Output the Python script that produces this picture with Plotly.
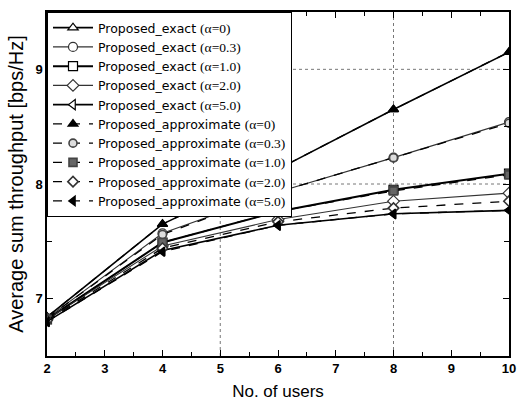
import plotly.graph_objects as go

users = [2, 4, 6, 8, 10]

exact_a0 = [6.84, 7.65, 8.13, 8.65, 9.15]
exact_a03 = [6.83, 7.57, 7.93, 8.23, 8.54]
exact_a1 = [6.82, 7.49, 7.76, 7.95, 8.09]
exact_a2 = [6.82, 7.46, 7.69, 7.85, 7.92]
exact_a5 = [6.80, 7.42, 7.64, 7.74, 7.77]

approx_a0 = [6.84, 7.65, 8.13, 8.65, 9.15]
approx_a03 = [6.83, 7.56, 7.93, 8.23, 8.53]
approx_a1 = [6.82, 7.49, 7.76, 7.94, 8.08]
approx_a2 = [6.81, 7.44, 7.67, 7.79, 7.85]
approx_a5 = [6.80, 7.41, 7.64, 7.74, 7.77]

alphas = ["0", "0.3", "1.0", "2.0", "5.0"]
grid_x = [5, 8]
grid_y = [8, 9]

SANS = "Liberation Sans, Arial, sans-serif"
LEG = "DejaVu Sans, sans-serif"
SERIF = "Liberation Serif, Times New Roman, serif"


def label(kind, a):
    return f'{kind} <span style="font-family:{SERIF};font-size:13.5px">(α={a})</span>'


fig = go.Figure()

exact_sets = [exact_a0, exact_a03, exact_a1, exact_a2, exact_a5]
exact_syms = ["triangle-up", "circle", "square", "diamond", "triangle-left"]
exact_w = [1.6, 1.1, 2.0, 1.1, 1.6]
exact_col = ["#000000", "#333333", "#000000", "#333333", "#000000"]
for vals, sym, w, c, a in zip(exact_sets, exact_syms, exact_w, exact_col, alphas):
    fig.add_trace(go.Scatter(
        x=users, y=vals, mode="lines+markers", name=label("Proposed_exact", a),
        line=dict(color=c, width=w),
        marker=dict(symbol=sym, size=9, color="white", line=dict(color=c, width=1.2)),
    ))

approx_sets = [approx_a0, approx_a03, approx_a1, approx_a2, approx_a5]
approx_syms = ["triangle-up", "circle", "square", "diamond", "triangle-left"]
approx_fill = ["#000000", "#dddddd", "#666666", "#ffffff", "#000000"]
approx_mc = ["#000000", "#444444", "#444444", "#333333", "#000000"]
for vals, sym, fc, mc, a in zip(approx_sets, approx_syms, approx_fill, approx_mc, alphas):
    fig.add_trace(go.Scatter(
        x=users, y=vals, mode="lines+markers", name=label("Proposed_approximate", a),
        line=dict(color="#000000", width=1.3, dash="dash"),
        marker=dict(symbol=sym, size=8, color=fc, line=dict(color=mc, width=1.6)),
    ))

for gx in grid_x:
    fig.add_shape(type="line", xref="x", yref="paper", x0=gx, x1=gx, y0=0, y1=1,
                  line=dict(color="#777777", width=1, dash="dot"), layer="below")
for gy in grid_y:
    fig.add_shape(type="line", xref="paper", yref="y", x0=0, x1=1, y0=gy, y1=gy,
                  line=dict(color="#777777", width=1, dash="dot"), layer="below")

axis_common = dict(
    showline=True, linecolor="black", linewidth=1.5, mirror="ticks",
    ticks="inside", ticklen=6, tickwidth=1.2, tickcolor="black",
    showgrid=False, zeroline=False,
    tickfont=dict(family=SANS, size=13, color="black", weight=700),
)

fig.update_xaxes(
    range=[2, 10], dtick=1, tick0=2,
    minor=dict(dtick=0.5, ticks="inside", ticklen=4, tickcolor="black", showgrid=False),
    title=dict(text="No. of users", font=dict(family=SANS, size=17, color="black"), standoff=10),
    **axis_common,
)
fig.update_yaxes(
    range=[6.5, 9.5], dtick=1, tick0=7,
    minor=dict(dtick=0.5, ticks="inside", ticklen=5, tickcolor="black", showgrid=False),
    title=dict(text="Average sum throughput [bps/Hz]", font=dict(family=SANS, size=20, color="black"), standoff=6),
    **axis_common,
)

fig.update_layout(
    width=526, height=408,
    margin=dict(l=47, r=11, t=10, b=51),
    paper_bgcolor="white", plot_bgcolor="white",
    showlegend=True,
    legend=dict(
        x=0, y=1, xanchor="left", yanchor="top",
        bgcolor="white", bordercolor="black", borderwidth=1,
        font=dict(family=LEG, size=12.5, color="black"),
        itemwidth=40, tracegroupgap=0,
    ),
)

fig.write_html("out.html")
